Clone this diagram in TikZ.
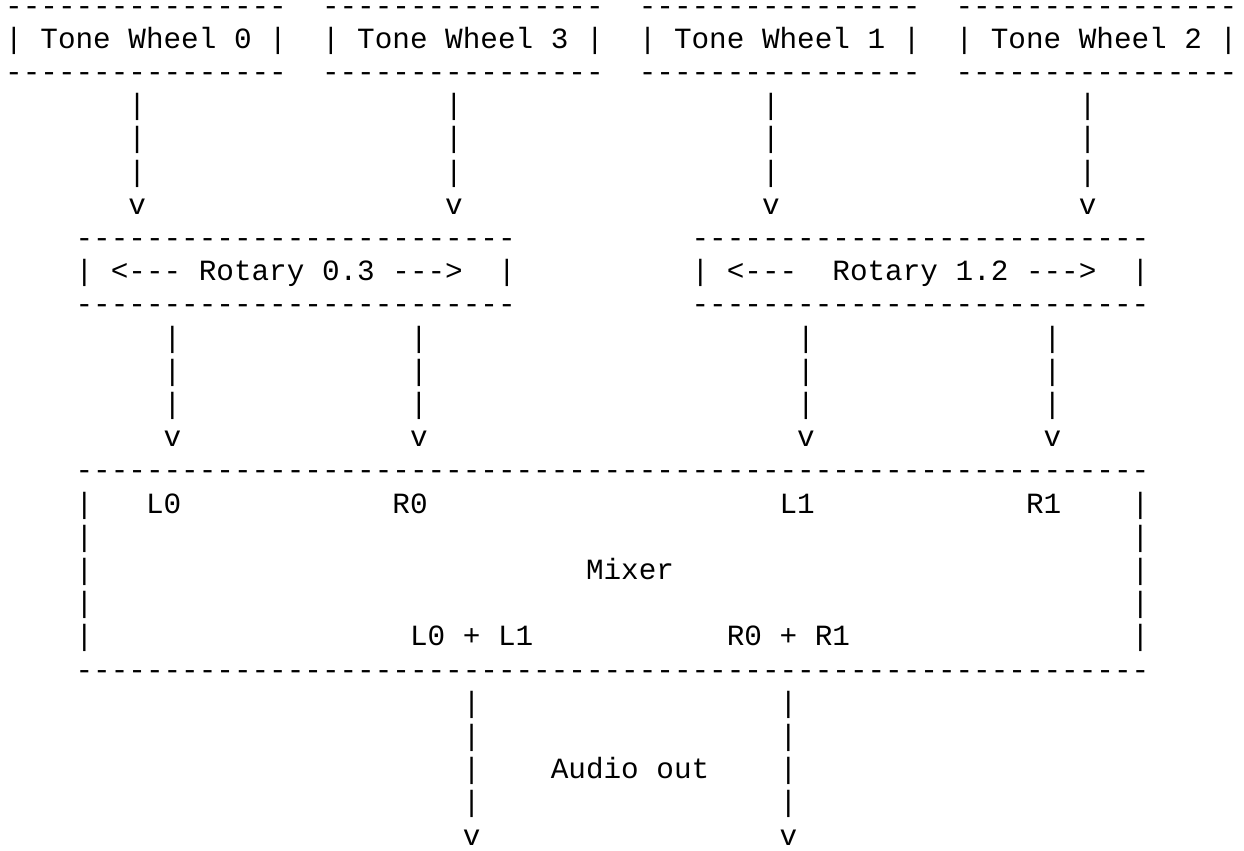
\documentclass[tikz,border=0pt]{standalone}
\usepackage{fontspec}
\setmonofont{Liberation Mono}
\newcommand\asciifont{\ttfamily\fontsize{14.6667pt}{16.6pt}\selectfont}
\newcommand\dashrow[1]{\foreach \i in {1,...,#1}{-}}
\tikzset{ascii/.style={anchor=base west, inner sep=0pt, outer sep=0pt, font=\asciifont}}

\begin{document}
\begin{tikzpicture}[x=8.8pt, y=-16.6pt]
            \useasboundingbox (-0.2955,-0.4548) rectangle (70.386,25.148);
            % tone wheels
            \foreach \c/\k in {0/0,18/3,36/1,54/2}{
                \node[ascii] (twtop\k) at (\c,0) {\dashrow{16}};
                \node[ascii] (tw\k) at (\c,1) {| Tone Wheel {\k} |};
                \node[ascii] (twbot\k) at (\c,2) {\dashrow{16}};
            }
            \foreach \c in {7,25,43,61}{
                \foreach \n in {3,4,5}
                    \node[ascii] (up\c-\n) at (\c,\n) {|};
                \node[ascii] (upv\c) at (\c,6) {v};
            }
            % rotary units
            \node[ascii] (rot0top) at (4,7) {\dashrow{25}};
            \node[ascii] (rot0) at (4,8) {| <--- Rotary 0.3 ---> \ |};
            \node[ascii] (rot0bot) at (4,9) {\dashrow{25}};
            \node[ascii] (rot1top) at (39,7) {\dashrow{26}};
            \node[ascii] (rot1) at (39,8) {| <--- \ Rotary 1.2 ---> \ |};
            \node[ascii] (rot1bot) at (39,9) {\dashrow{26}};
            \foreach \c in {9,23,45,59}{
                \foreach \n in {10,11,12}
                    \node[ascii] (mid\c-\n) at (\c,\n) {|};
                \node[ascii] (midv\c) at (\c,13) {v};
            }
            % mixer
            \node[ascii] (mixtop) at (4,14) {\dashrow{61}};
            \foreach \n in {15,...,19}{
                \node[ascii] (mixl\n) at (4,\n) {|};
                \node[ascii] (mixr\n) at (64,\n) {|};
            }
            \node[ascii] (inL0) at (8,15) {L0};
            \node[ascii] (inR0) at (22,15) {R0};
            \node[ascii] (inL1) at (44,15) {L1};
            \node[ascii] (inR1) at (58,15) {R1};
            \node[ascii] (mixer) at (33,17) {Mixer};
            \node[ascii] (sumL) at (23,19) {L0 + L1};
            \node[ascii] (sumR) at (41,19) {R0 + R1};
            \node[ascii] (mixbot) at (4,20) {\dashrow{61}};
            % output
            \foreach \c in {26,44}{
                \foreach \n in {21,...,24}
                    \node[ascii] (out\c-\n) at (\c,\n) {|};
                \node[ascii] (outv\c) at (\c,25) {v};
            }
            \node[ascii] (audio) at (31,23) {Audio out};
        \end{tikzpicture}
\end{document}
